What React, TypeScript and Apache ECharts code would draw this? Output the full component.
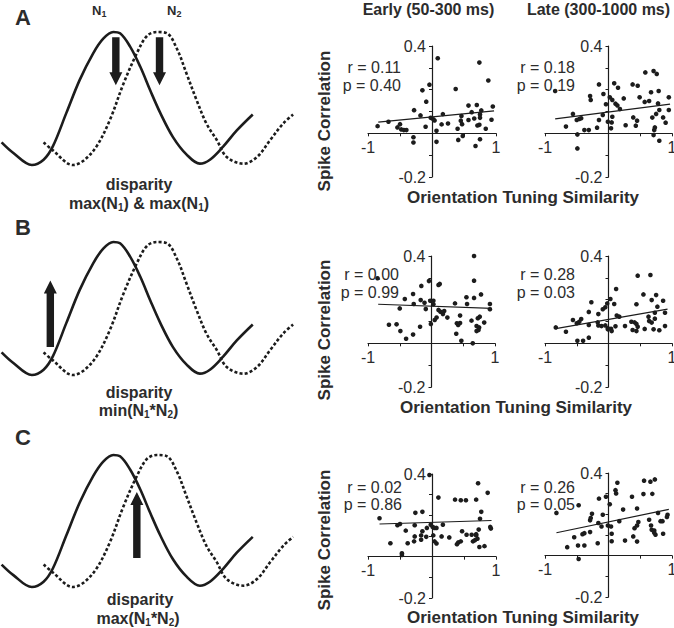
import React, { useEffect, useRef } from 'react';
import * as echarts from 'echarts';

// ---- Tuning curves (disparity, normalized response) ----
const solidDisp = [-1.35, -1.21, -0.99, -0.85, -0.74, -0.58, -0.42, -0.26, -0.14, -0.02, 0.06, 0.18, 0.30, 0.42, 0.54, 0.69, 0.85, 1.01, 1.13, 1.29, 1.45, 1.64];
const solidResp = [0.17, 0.09, 0.0, 0.04, 0.14, 0.39, 0.64, 0.84, 0.95, 1.0, 0.99, 0.89, 0.74, 0.56, 0.39, 0.21, 0.08, 0.01, 0.04, 0.14, 0.26, 0.38];
const dotDisp = [-0.85, -0.74, -0.50, -0.38, -0.22, -0.06, 0.10, 0.26, 0.38, 0.50, 0.62, 0.74, 0.85, 0.97, 1.09, 1.21, 1.33, 1.53, 1.69, 1.85, 2.00, 2.12];
const dotResp = [0.17, 0.11, 0.0, 0.03, 0.14, 0.34, 0.61, 0.84, 0.97, 1.0, 0.99, 0.87, 0.69, 0.49, 0.31, 0.19, 0.06, 0.01, 0.06, 0.19, 0.31, 0.38];

// arrows: [disparity, tail response, tip response]
const arrowsA = [[0.01, 0.96, 0.60], [0.53, 0.96, 0.60]];
const arrowsB = [[-0.77, 0.21, 0.71]];
const arrowsC = [[0.26, 0.22, 0.72]];

// ---- Scatter data: [orientation tuning similarity, spike correlation] ----
const aEarly = [[0.09,0.344],[0.74,0.324],[0.88,0.242],[-0.04,0.223],[-0.15,0.197],[0.37,0.203],[-0.09,0.145],[-0.28,0.106],[-0.18,0.082],[-0.02,0.071],[0.02,0.064],[0.04,0.059],[0.17,0.088],[-0.10,0.030],[0.15,0.041],[0.25,0.045],[0.07,0.012],[0.57,0.127],[0.70,0.130],[0.46,0.079],[0.62,0.097],[0.75,0.071],[0.77,0.105],[0.95,0.123],[0.93,0.062],[0.66,0.068],[0.57,0.061],[0.47,0.042],[0.40,0.021],[0.48,-0.012],[0.41,-0.030],[0.71,0.036],[0.74,0.039],[0.84,0.021],[0.75,-0.027],[0.68,-0.058],[0.07,-0.039],[-0.29,-0.018],[-0.29,-0.042],[-0.50,0.042],[-0.54,0.027],[-0.48,0.018],[-0.44,0.015],[-0.40,0.015],[-0.68,0.053],[-0.85,0.033],[0.45,0.058],[0.75,0.086]];
const aLate = [[-0.84,0.194],[-0.15,0.224],[-0.29,0.171],[-0.28,0.153],[-0.08,0.180],[0.09,0.229],[0.15,0.209],[0.38,0.224],[0.46,0.218],[0.58,0.279],[0.71,0.285],[0.76,0.272],[0.67,0.188],[0.79,0.194],[0.95,0.165],[0.49,0.165],[0.57,0.144],[0.64,0.148],[0.78,0.137],[0.80,0.107],[0.95,0.107],[0.24,0.160],[0.02,0.165],[0.06,0.153],[0.11,0.136],[0.14,0.128],[0.18,0.111],[-0.04,0.133],[-0.09,0.084],[-0.15,0.061],[-0.56,0.089],[-0.46,0.066],[-0.50,0.061],[-0.43,0.069],[-0.67,0.031],[-0.38,0.015],[-0.31,0.015],[-0.18,0.026],[-0.01,0.053],[0.05,0.050],[0.04,0.023],[0.06,0.076],[0.27,0.037],[0.39,0.073],[0.45,0.058],[0.43,0.035],[0.69,0.072],[0.73,0.027],[0.72,0.015],[0.71,-0.008],[0.80,-0.034],[0.86,0.073],[0.90,0.049],[-0.49,-0.005],[-0.49,-0.069],[0.75,0.089]];
const bEarly = [[0.67,0.400],[-0.85,0.298],[-0.04,0.285],[0.11,0.267],[0.13,0.272],[0.67,0.287],[-0.16,0.263],[-0.29,0.226],[-0.42,0.203],[-0.17,0.198],[-0.11,0.186],[-0.28,0.180],[-0.02,0.195],[0.03,0.195],[0.03,0.179],[-0.50,0.160],[-0.09,0.157],[0.11,0.153],[0.14,0.145],[0.20,0.148],[0.18,0.134],[0.25,0.118],[0.37,0.183],[0.45,0.127],[0.55,0.211],[0.56,0.180],[0.67,0.208],[0.78,0.224],[0.92,0.180],[0.92,0.156],[0.08,0.118],[0.05,0.107],[-0.01,0.089],[-0.18,0.076],[-0.67,0.085],[-0.55,0.087],[-0.49,0.056],[-0.40,0.021],[-0.29,0.040],[0.40,0.092],[0.45,0.093],[0.42,0.084],[0.39,0.044],[0.47,0.012],[0.63,0.104],[0.73,0.115],[0.76,0.122],[0.71,0.079],[0.71,0.056],[0.74,0.061],[0.75,0.073],[0.83,0.095],[0.65,0.000]];
const bLate = [[0.46,0.310],[0.66,0.313],[0.12,0.249],[0.55,0.224],[0.75,0.221],[0.68,0.198],[0.86,0.195],[0.03,0.203],[-0.02,0.183],[0.09,0.180],[-0.27,0.188],[-0.05,0.165],[0.44,0.179],[0.77,0.168],[-0.09,0.156],[-0.31,0.144],[-0.16,0.134],[0.13,0.127],[0.17,0.122],[0.63,0.122],[0.73,0.140],[0.89,0.140],[0.73,0.113],[0.64,0.102],[0.68,0.095],[-0.56,0.107],[-0.43,0.111],[-0.50,0.092],[-0.46,0.099],[-0.17,0.096],[-0.16,0.082],[-0.11,0.079],[-0.31,0.084],[0.11,0.078],[-0.01,0.069],[0.04,0.067],[0.05,0.056],[0.26,0.079],[0.36,0.099],[0.41,0.096],[0.44,0.089],[0.46,0.076],[0.38,0.061],[0.44,0.056],[0.57,0.066],[0.71,0.064],[0.80,0.060],[0.89,0.079],[-0.83,0.073],[-0.67,0.053],[-0.31,0.026],[-0.49,0.012],[-0.40,0.012],[-0.01,0.064],[-0.05,0.082]];
const cEarly = [[-0.04,0.395],[0.72,0.355],[0.87,0.309],[0.10,0.286],[0.36,0.276],[0.45,0.273],[0.53,0.273],[0.69,0.276],[-0.26,0.212],[-0.15,0.217],[0.77,0.217],[-0.82,0.186],[0.75,0.183],[-0.54,0.152],[-0.50,0.158],[-0.27,0.152],[-0.02,0.155],[0.17,0.155],[-0.08,0.139],[0.01,0.144],[0.04,0.139],[0.07,0.139],[-0.41,0.126],[-0.15,0.123],[-0.17,0.103],[-0.27,0.098],[-0.09,0.096],[-0.28,0.074],[-0.38,0.065],[-0.17,0.082],[0.02,0.103],[0.04,0.074],[0.07,0.064],[0.15,0.098],[0.27,0.093],[-0.65,0.065],[0.47,0.123],[0.54,0.106],[0.62,0.106],[0.69,0.109],[0.73,0.131],[0.91,0.144],[0.92,0.136],[0.41,0.069],[0.45,0.074],[0.39,0.060],[0.64,0.074],[0.67,0.080],[0.71,0.087],[0.74,0.047],[0.82,0.051],[0.69,0.103],[-0.47,0.016],[-0.47,0.008]];
const cLate = [[0.56,0.363],[0.66,0.358],[0.73,0.369],[0.14,0.353],[0.11,0.317],[0.12,0.301],[0.55,0.298],[0.69,0.299],[-0.04,0.285],[-0.15,0.276],[0.37,0.285],[-0.47,0.244],[0.02,0.249],[-0.82,0.207],[-0.26,0.203],[-0.28,0.182],[-0.29,0.171],[-0.09,0.198],[0.23,0.223],[0.45,0.228],[0.78,0.207],[0.93,0.198],[0.92,0.187],[0.64,0.174],[0.17,0.167],[-0.16,0.158],[-0.11,0.141],[-0.01,0.146],[0.04,0.141],[0.47,0.163],[0.45,0.146],[0.41,0.133],[0.67,0.146],[0.68,0.125],[0.72,0.122],[0.72,0.111],[0.74,0.101],[0.86,0.106],[0.82,0.167],[0.85,0.167],[-0.38,0.109],[-0.29,0.114],[-0.54,0.089],[-0.41,0.104],[0.05,0.106],[0.05,0.070],[0.26,0.073],[0.39,0.093],[0.45,0.068],[-0.17,0.060],[-0.65,0.041],[-0.48,0.049],[-0.38,0.049],[-0.47,-0.016]];

// regression lines (endpoints)
const aEarlyFit = [[-0.84, 0.051], [0.97, 0.103]];
const aLateFit = [[-0.84, 0.066], [0.97, 0.134]];
const bEarlyFit = [[-0.84, 0.179], [0.95, 0.160]];
const bLateFit = [[-0.83, 0.067], [0.93, 0.157]];
const cEarlyFit = [[-0.82, 0.158], [0.93, 0.175]];
const cLateFit = [[-0.82, 0.111], [0.95, 0.224]];

const rValues = ['0.11', '0.18', '0.00', '0.28', '0.02', '0.26'];
const pValues = ['0.40', '0.19', '0.99', '0.03', '0.86', '0.05'];

const xTickLabels = ['-1', '1'];
const yTickLabels = ['0.4', '-0.2'];

const FONT = "'Liberation Sans', Arial, Helvetica, sans-serif";
const INK = '#1c1c1c';
const TXT = '#2c2c2c';

function zip(a: number[], b: number[]) {
  return a.map((v, i) => [v, b[i]]);
}

function buildOption() {
  const leftGrids = [
    { left: 1.6, top: 32, width: 294, height: 133 },
    { left: 1.6, top: 242, width: 294, height: 133 },
    { left: 1.6, top: 455, width: 294, height: 132 },
  ];
  const arrows = [arrowsA, arrowsB, arrowsC];
  const panels = [
    { data: aEarly, fit: aEarlyFit, grid: { left: 368, top: 46, width: 128, height: 131 } },
    { data: aLate, fit: aLateFit, grid: { left: 545, top: 46, width: 127, height: 131 } },
    { data: bEarly, fit: bEarlyFit, grid: { left: 368, top: 256, width: 127, height: 131 } },
    { data: bLate, fit: bLateFit, grid: { left: 545, top: 256, width: 127, height: 131 } },
    { data: cEarly, fit: cEarlyFit, grid: { left: 368, top: 474, width: 128, height: 124 } },
    { data: cLate, fit: cLateFit, grid: { left: 545, top: 473, width: 127, height: 124 } },
  ];

  const grid: any[] = [];
  const xAxis: any[] = [];
  const yAxis: any[] = [];
  const series: any[] = [];

  leftGrids.forEach((g, i) => {
    grid.push({ ...g, outerBoundsMode: 'none', containLabel: false });
    xAxis.push({ gridIndex: i, type: 'value', min: -1.35, max: 2.15, show: false });
    yAxis.push({ gridIndex: i, type: 'value', min: 0, max: 1, show: false });
    series.push({
      type: 'line', xAxisIndex: i, yAxisIndex: i, data: zip(solidDisp, solidResp),
      smooth: 0.35, showSymbol: false, clip: false,
      lineStyle: { color: INK, width: 2.6 },
    });
    series.push({
      type: 'line', xAxisIndex: i, yAxisIndex: i, data: zip(dotDisp, dotResp),
      smooth: 0.35, showSymbol: false, clip: false,
      lineStyle: { color: INK, width: 2.6, type: [3, 2.2] },
    });
    series.push({
      type: 'custom', xAxisIndex: i, yAxisIndex: i, data: arrows[i], clip: false,
      encode: { x: 0, y: [1, 2] },
      renderItem: (params: any, api: any) => {
        const p0 = api.coord([api.value(0), api.value(1)]);
        const p1 = api.coord([api.value(0), api.value(2)]);
        const dir = p1[1] > p0[1] ? 1 : -1;
        const headLen = 13, headW = 6.5, shaftW = 3.7;
        const hy = p1[1] - dir * headLen;
        const x = p0[0];
        return {
          type: 'polygon',
          shape: {
            points: [
              [x - shaftW, p0[1]], [x + shaftW, p0[1]], [x + shaftW, hy], [x + headW, hy],
              [x, p1[1]], [x - headW, hy], [x - shaftW, hy],
            ],
          },
          style: { fill: INK },
        };
      },
    });
  });

  const Y_MIN = -0.2, Y_MAX = 0.4, X_MIN = -1, X_MAX = 1;
  panels.forEach((p, k) => {
    const i = k + 3;
    const g = p.grid;
    // shift axes so that they cross at the origin (with their labels)
    const xOffset = -g.height * (0 - Y_MIN) / (Y_MAX - Y_MIN);
    const yOffset = -g.width * (0 - X_MIN) / (X_MAX - X_MIN);
    grid.push({ ...g, outerBoundsMode: 'none', containLabel: false });
    xAxis.push({
      gridIndex: i, type: 'value', min: X_MIN, max: X_MAX, interval: 0.5,
      position: 'bottom', offset: xOffset,
      axisLine: { onZero: false, lineStyle: { color: INK, width: 1.2 } },
      axisTick: { show: true, length: 3, lineStyle: { color: INK, width: 1 } },
      splitLine: { show: false },
      axisLabel: {
        showMinLabel: true, showMaxLabel: true, margin: 6, hideOverlap: false,
        fontSize: 16, fontFamily: FONT, color: TXT,
        formatter: (v: number) => (Math.abs(v + 1) < 1e-6 ? xTickLabels[0] : Math.abs(v - 1) < 1e-6 ? xTickLabels[1] : ''),
      },
    });
    yAxis.push({
      gridIndex: i, type: 'value', min: Y_MIN, max: Y_MAX, interval: 0.1,
      position: 'left', offset: yOffset,
      axisLine: { onZero: false, lineStyle: { color: INK, width: 1.2 } },
      axisTick: { show: true, length: 3, lineStyle: { color: INK, width: 1 } },
      splitLine: { show: false },
      axisLabel: {
        showMinLabel: true, showMaxLabel: true, margin: 6, hideOverlap: false,
        fontSize: 16, fontFamily: FONT, color: TXT,
        formatter: (v: number) => (Math.abs(v - 0.4) < 1e-6 ? yTickLabels[0] : Math.abs(v + 0.2) < 1e-6 ? yTickLabels[1] : ''),
      },
    });
    series.push({
      type: 'scatter', xAxisIndex: i, yAxisIndex: i, data: p.data,
      symbolSize: 4.6, itemStyle: { color: INK, opacity: 1 },
    });
    series.push({
      type: 'line', xAxisIndex: i, yAxisIndex: i, data: p.fit,
      showSymbol: false, lineStyle: { color: INK, width: 1.2 },
    });
  });

  const t = (x: number, y: number, text: string, size: number, bold: boolean, align = 'center', extra: any = {}) => ({
    type: 'text', x, y, silent: true, ...extra,
    style: {
      text, fill: TXT, fontSize: size, fontWeight: bold ? 'bold' : 'normal', fontFamily: FONT,
      align, verticalAlign: 'middle', ...(extra.style || {}),
    },
  });

  const subRich = (size: number, lh: number, subSize: number, subH: number) => ({
    b: { fontSize: size, fontWeight: 'bold', fontFamily: FONT, fill: TXT, color: TXT, lineHeight: lh },
    s: { fontSize: subSize, fontWeight: 'bold', fontFamily: FONT, fill: TXT, color: TXT, verticalAlign: 'bottom', height: subH },
  });
  const richText = (x: number, y: number, text: string, rich: any, align = 'center') => ({
    type: 'text', x, y, silent: true,
    style: { text, rich, align, verticalAlign: 'middle', fill: TXT, fontFamily: FONT },
  });

  const bigRich = subRich(16, 20, 10, 12);
  const nRich = subRich(13, 17, 9, 10);

  const graphic: any[] = [
    t(15, 17, 'A', 22, true, 'left'),
    t(15, 227, 'B', 22, true, 'left'),
    t(15, 437, 'C', 22, true, 'left'),
    richText(92, 10, '{b|N}{s|1}', nRich, 'left'),
    richText(167, 10, '{b|N}{s|2}', nRich, 'left'),
    t(139, 184, 'disparity', 16, true),
    richText(139, 203, '{b|max(N}{s|1}{b|) & max(N}{s|1}{b|)}', bigRich),
    t(139, 392, 'disparity', 16, true),
    richText(138.5, 410, '{b|min(N}{s|1}{b|*N}{s|2}{b|)}', bigRich),
    t(140, 599, 'disparity', 16, true),
    richText(138, 618, '{b|max(N}{s|1}{b|*N}{s|2}{b|)}', bigRich),
    t(428.5, 9, 'Early (50-300 ms)', 16, true),
    t(598.5, 9, 'Late (300-1000 ms)', 16, true),
  ];
  [121, 330, 540].forEach((cy) => {
    graphic.push(t(324, cy, 'Spike Correlation', 17, true, 'center', { rotation: Math.PI / 2 }));
  });
  [[523, 197], [516, 407], [523, 617]].forEach(([cx, cy]) => {
    graphic.push(t(cx, cy, 'Orientation Tuning Similarity', 17, true));
  });
  const rpPos = [
    [401, 67.5, 85], [575, 67.5, 85],
    [399, 274, 292], [575, 274, 292],
    [402, 487, 504], [575, 487, 504],
  ];
  rpPos.forEach(([x, yr, yp], k) => {
    graphic.push(t(x, yr, 'r = ' + rValues[k], 16, false, 'right'));
    graphic.push(t(x, yp, 'p = ' + pValues[k], 16, false, 'right'));
  });

  return {
    animation: false,
    backgroundColor: '#ffffff',
    textStyle: { fontFamily: FONT },
    grid, xAxis, yAxis, series, graphic,
  };
}

export default function App() {
  const ref = useRef<HTMLDivElement>(null);
  useEffect(() => {
    const chart = echarts.init(ref.current as HTMLDivElement, null, { renderer: 'svg' });
    chart.setOption(buildOption() as any);
    return () => chart.dispose();
  }, []);
  return (
    <div
      ref={ref}
      style={{ position: 'fixed', left: 0, top: 0, width: 674, height: 628, background: '#fff' }}
    />
  );
}
